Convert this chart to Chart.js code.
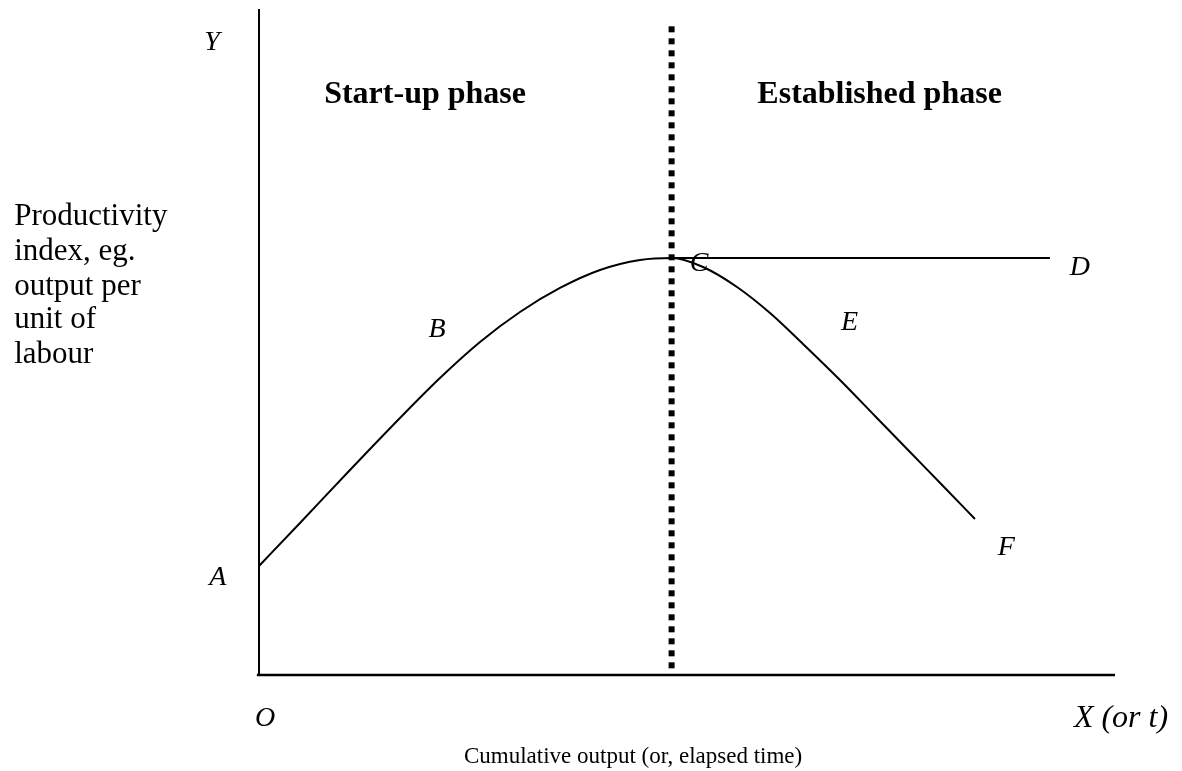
<!DOCTYPE html>
<html>
<head>
<meta charset="utf-8">
<script src="https://cdn.jsdelivr.net/npm/chart.js@4.4.1/dist/chart.umd.min.js"></script>
<style>
  html, body { margin: 0; padding: 0; background: #fff; }
  #wrap { width: 1182px; height: 771px; }
</style>
</head>
<body>
<div id="wrap"><canvas id="phaseChart" width="1182" height="771"></canvas></div>
<script>
// productivity curve A -> B -> C -> E -> F (x = cumulative output, y = productivity index)
const curveX = [0, 4.79, 10.63, 16.47, 21.14, 25.82, 30.49, 35.16, 39.84, 44.51, 48.25, 51.87, 55.84, 59.70, 63.55, 67.87, 71.96, 76.05, 80.14, 83.64];
const curveY = [16.37, 22.82, 30.78, 38.59, 44.59, 50.0, 54.5, 58.11, 60.81, 62.31, 62.61, 61.26, 58.26, 54.35, 49.70, 44.29, 38.89, 33.48, 28.08, 23.42];

// flat C -> D line
const flatX = [48.25, 92.4];
const flatY = [62.61, 62.61];

// phase boundary (dotted)
const boundaryX = [48.2, 48.2];
const boundaryY = [97.4, 0.7];

// axes
const yAxisX = [0, 0];
const yAxisY = [100, 0];
const xAxisX = [-0.25, 100];
const xAxisY = [0, 0];

// text labels
const letterLabels = ["Y", "A", "B", "C", "D", "E", "F", "O"];
const letterX = [-5.5, -4.8, 20.8, 51.4, 95.9, 69.0, 87.3, 0.7];
const letterY = [95.0, 14.6, 51.8, 61.7, 61.1, 52.9, 19.1, -6.5];

const phaseLabels = ["Start-up phase", "Established phase"];
const phaseX = [19.4, 72.5];
const phaseY = [87.1, 87.1];

const yTitleLines = ["Productivity", "index, eg.", "output per", "unit of", "labour"];
const yTitleX = -28.6;
const yTitleY = [68.8, 63.5, 58.3, 53.3, 48.0];

const xEndLabel = "X (or t)";
const xTitle = "Cumulative output (or, elapsed time)";

const toPoints = (xs, ys) => xs.map((x, i) => ({ x: x, y: ys[i] }));

const serif = '"Liberation Serif", "Times New Roman", serif';

const labelPlugin = {
  id: "labels",
  afterDraw(chart) {
    const ctx = chart.ctx;
    const sx = chart.scales.x;
    const sy = chart.scales.y;
    ctx.save();
    ctx.fillStyle = "#000";
    ctx.textBaseline = "middle";

    ctx.font = "italic 28px " + serif;
    ctx.textAlign = "center";
    letterLabels.forEach((t, i) => {
      ctx.fillText(t, sx.getPixelForValue(letterX[i]), sy.getPixelForValue(letterY[i]));
    });
    ctx.font = "italic 32px " + serif;
    ctx.fillText(xEndLabel, sx.getPixelForValue(100.7), sy.getPixelForValue(-6.5));

    ctx.font = "bold 32px " + serif;
    phaseLabels.forEach((t, i) => {
      ctx.fillText(t, sx.getPixelForValue(phaseX[i]), sy.getPixelForValue(phaseY[i]));
    });

    ctx.font = "23px " + serif;
    ctx.fillText(xTitle, sx.getPixelForValue(43.7), sy.getPixelForValue(-12.3));

    ctx.font = "31px " + serif;
    ctx.textAlign = "left";
    yTitleLines.forEach((t, i) => {
      ctx.fillText(t, sx.getPixelForValue(yTitleX), sy.getPixelForValue(yTitleY[i]));
    });
    ctx.restore();
  },
};

const lineStyle = {
  showLine: true,
  pointRadius: 0,
  borderColor: "#000",
  fill: false,
  clip: false,
};

const config = {
  type: "scatter",
  data: {
    datasets: [
      { ...lineStyle, label: "Y axis", data: toPoints(yAxisX, yAxisY), borderWidth: 2 },
      { ...lineStyle, label: "X axis", data: toPoints(xAxisX, xAxisY), borderWidth: 2.5 },
      {
        ...lineStyle,
        label: "Boundary",
        data: toPoints(boundaryX, boundaryY),
        borderWidth: 6,
        borderDash: [6, 6],
        borderCapStyle: "butt",
      },
      { ...lineStyle, label: "C-D", data: toPoints(flatX, flatY), borderWidth: 2 },
      {
        ...lineStyle,
        label: "Productivity",
        data: toPoints(curveX, curveY),
        borderWidth: 2,
        cubicInterpolationMode: "monotone",
      },
    ],
  },
  options: {
    responsive: false,
    animation: false,
    layout: {
      padding: { left: 259, right: 67, top: 9, bottom: 96 },
    },
    scales: {
      x: { type: "linear", min: 0, max: 100, display: false },
      y: { type: "linear", min: 0, max: 100, display: false },
    },
    plugins: {
      legend: { display: false },
      tooltip: { enabled: false },
    },
  },
  plugins: [labelPlugin],
};

const phaseChart = new Chart(document.getElementById("phaseChart").getContext("2d"), config);
</script>
</body>
</html>
